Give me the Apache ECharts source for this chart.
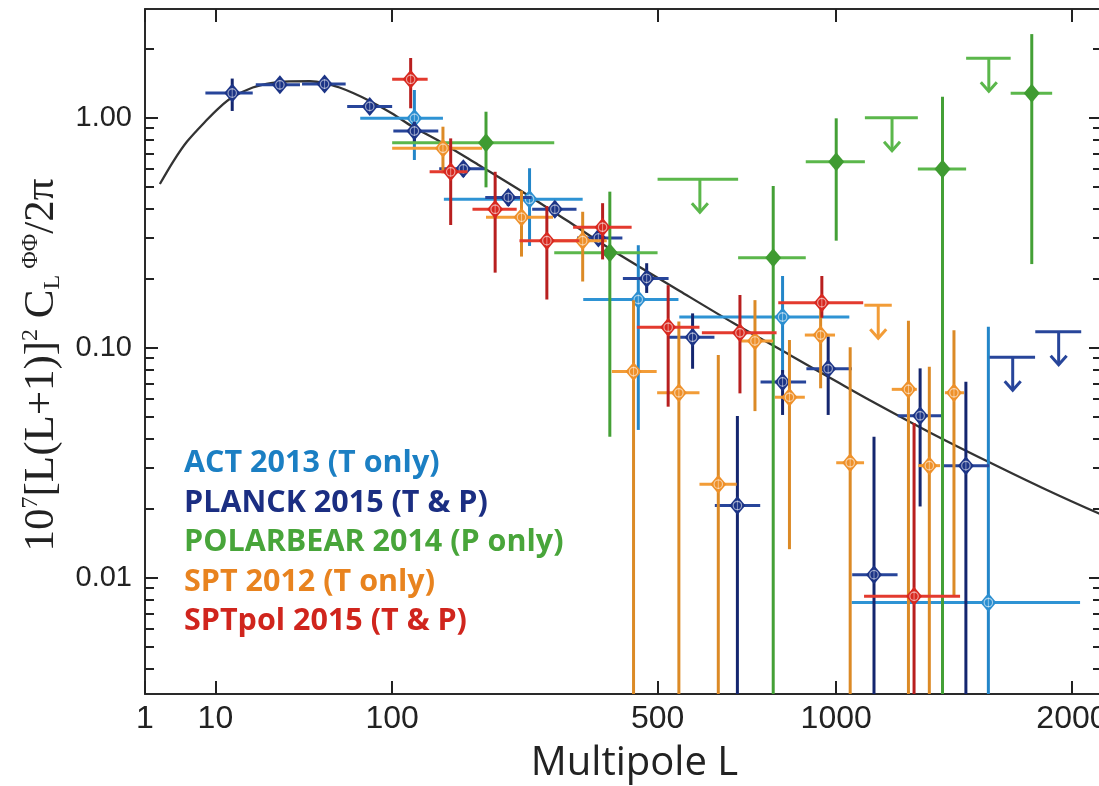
<!DOCTYPE html>
<html><head><meta charset="utf-8">
<script src="https://cdn.jsdelivr.net/npm/echarts@6/dist/echarts.min.js"></script>
<style>html,body{margin:0;padding:0;background:#fff}#c{width:1099px;height:786px}</style>
</head><body><div id="c"></div>
<script>
// ---------- axes ----------
const X_POW = 0.4;                 // the L axis of the figure is a power-law (L^0.4) scale
const X_MIN_L = 1, X_MAX_L = 2158;
const Y_MIN = 0.00312, Y_MAX = 2.97;
const xTicks = [1, 10, 100, 500, 1000, 2000];
const yMajorTicks = [0.01, 0.1, 1];
const yMinorTicks = [0.004, 0.005, 0.006, 0.007, 0.008, 0.009,
  0.02, 0.03, 0.04, 0.05, 0.06, 0.07, 0.08, 0.09,
  0.2, 0.3, 0.4, 0.5, 0.6, 0.7, 0.8, 0.9, 2];

// ---------- theory curve ----------
const theoryL = [2, 3.3, 5, 8.25, 11, 13.94, 20, 27, 34, 44, 52, 61, 70, 82, 100, 118, 146, 190, 252, 320, 400, 552, 687, 850, 1012, 1118, 1350, 1598, 1850, 2142, 2200];
const theoryV = [0.515, 0.648, 0.788, 0.977, 1.113, 1.224, 1.353, 1.418, 1.439, 1.441, 1.415, 1.353, 1.280, 1.182, 1.043, 0.916, 0.787, 0.625, 0.473, 0.359, 0.2695, 0.176, 0.128, 0.093, 0.070, 0.0591, 0.0427, 0.0319, 0.0246, 0.019, 0.0183];

// ---------- ACT 2013 ----------
const actL   = [120, 261, 458, 828, 1598];
const actLlo = [75, 150, 350, 550, 1053];
const actLhi = [149, 349, 548, 1045, 2042];
const actV   = [0.994, 0.442, 0.162, 0.136, 0.0078];
const actVlo = [0.655, 0.277, 0.0439, 0.078, null];
const actVhi = [1.32, 0.603, 0.279, 0.205, 0.1234];

// ---------- PLANCK 2015 ----------
const plaL   = [14, 30, 52, 82, 120, 172, 230, 301, 378, 476, 582, 828, 973, 698, 1133, 1309, 1499];
const plaLlo = [8, 21, 40, 66, 101, 145, 199, 265, 339, 426, 526, 763, 902, 638, 1055, 1222, 1405];
const plaLhi = [20, 39, 65, 100, 144, 198, 264, 338, 425, 525, 637, 901, 1054, 762, 1221, 1404, 1602];
const plaV   = [1.28, 1.39, 1.40, 1.12, 0.875, 0.60, 0.45, 0.40, 0.30, 0.20, 0.111, 0.071, 0.081, 0.0206, 0.0103, 0.0506, 0.0307];
const plaVlo = [1.07, 1.33, 1.34, 1.05, 0.78, 0.554, 0.413, 0.371, 0.28, 0.173, 0.081, 0.051, 0.051, null, null, 0.0204, null];
const plaVhi = [1.48, 1.45, 1.46, 1.19, 0.96, 0.644, 0.485, 0.432, 0.33, 0.233, 0.141, 0.080, 0.112, 0.0505, 0.041, 0.0813, 0.0711];
const plaLimLlo = [1603, 1817];
const plaLimLhi = [1816, 2048];
const plaLimV   = [0.0908, 0.1174];

// ---------- POLARBEAR 2014 ----------
const pbL   = [200, 400, 800, 1000, 1400, 1800];
const pbLlo = [100, 300, 700, 900, 1300, 1700];
const pbLhi = [300, 500, 900, 1100, 1500, 1900];
const pbV   = [0.778, 0.259, 0.246, 0.644, 0.598, 1.277];
const pbVlo = [0.498, 0.041, null, 0.292, null, 0.231];
const pbVhi = [1.062, 0.477, 0.505, 0.994, 1.234, 2.31];
const pbLimLlo = [500, 1100, 1500];
const pbLimLhi = [700, 1300, 1700];
const pbLimV   = [0.540, 1.0, 1.813];

// ---------- SPT 2012 ----------
const sptL   = [149, 249, 349, 448, 549, 647, 747, 849, 948, 1048, 1263, 1346, 1448];
const sptLlo = [100, 200, 292, 404, 499, 599, 705, 805, 897, 1000, 1199, 1302, 1410];
const sptLhi = [195, 298, 394, 498, 599, 696, 800, 897, 996, 1097, 1296, 1390, 1491];
const sptV   = [0.736, 0.369, 0.292, 0.0787, 0.0637, 0.0255, 0.107, 0.0609, 0.1135, 0.0316, 0.0659, 0.0307, 0.0637];
const sptVlo = [0.573, 0.249, 0.194, null, null, null, 0.053, 0.0133, 0.0666, null, null, null, 0.0084];
const sptVhi = [0.914, 0.482, 0.390, 0.161, 0.130, 0.093, 0.161, 0.108, 0.151, 0.1004, 0.131, 0.0827, 0.119];
const sptLimLlo = [1098];
const sptLimLhi = [1199];
const sptLimV   = [0.153];

// ---------- SPTpol 2015 ----------
const spolL   = [116.5, 157.5, 212, 288, 386, 524, 705, 952, 1285];
const spolLlo = [100, 135, 183, 246, 332, 455, 605, 815, 1097];
const spolLhi = [133, 177, 242, 343, 444, 599, 810, 1094, 1474];
const spolV   = [1.469, 0.582, 0.40, 0.292, 0.334, 0.1227, 0.116, 0.157, 0.0083];
const spolVlo = [1.099, 0.3415, 0.212, 0.162, 0.242, 0.0554, 0.0633, 0.135, null];
const spolVhi = [1.818, 0.813, 0.582, 0.413, 0.425, 0.187, 0.1695, 0.205, 0.047];

const yTitle = '{b|10}{s|7}{b|[L(L+1)]}{s|2}{b| C}{u|L}{s| ΦΦ}{b|/2π}';

// ---------- build ----------
const tx = L => Math.pow(L, X_POW);
function points(L, Llo, Lhi, V, Vlo, Vhi) {
  return L.map((l, i) => [tx(l), V[i], tx(Llo[i]), tx(Lhi[i]),
    Vlo[i] == null ? Y_MIN : Vlo[i], Vhi[i], 0]);
}
function limits(Llo, Lhi, V) {
  return Llo.map((lo, i) => [tx((lo + Lhi[i]) / 2), V[i], tx(lo), tx(Lhi[i]), V[i], V[i], 1]);
}

const defs = [
  { name: 'ACT 2013 (T only)', text: '#1b7fc3', h: '#2e93d4', v: '#2386c9', m: '#2a8ed0', ring: true,
    data: points(actL, actLlo, actLhi, actV, actVlo, actVhi) },
  { name: 'PLANCK 2015 (T & P)', text: '#1b2e82', h: '#27459a', v: '#14266f', m: '#1c3486', ring: true,
    data: points(plaL, plaLlo, plaLhi, plaV, plaVlo, plaVhi).concat(limits(plaLimLlo, plaLimLhi, plaLimV)) },
  { name: 'POLARBEAR 2014 (P only)', text: '#48a53a', h: '#5bb74b', v: '#44a036', m: '#3f9b31', ring: false,
    data: points(pbL, pbLlo, pbLhi, pbV, pbVlo, pbVhi).concat(limits(pbLimLlo, pbLimLhi, pbLimV)) },
  { name: 'SPT 2012 (T only)', text: '#e8831f', h: '#f29c37', v: '#dc8a26', m: '#ee9029', ring: true,
    data: points(sptL, sptLlo, sptLhi, sptV, sptVlo, sptVhi).concat(limits(sptLimLlo, sptLimLhi, sptLimV)) },
  { name: 'SPTpol 2015 (T & P)', text: '#d0251d', h: '#e33a2e', v: '#b81f1f', m: '#d8281f', ring: true,
    data: points(spolL, spolLlo, spolLhi, spolV, spolVlo, spolVhi) }
];

function makeRender(d) {
  return function (params, api) {
    const cs = params.coordSys;
    const top = cs.y, bot = cs.y + cs.height;
    const cy = y => Math.max(top, Math.min(bot, y));
    const xc = api.value(0), val = api.value(1), x0 = api.value(2), x1 = api.value(3);
    const lo = api.value(4), hi = api.value(5), lim = api.value(6);
    const p = api.coord([xc, val]);
    const pl = api.coord([x0, val]), pr = api.coord([x1, val]);
    const ch = [];
    ch.push({ type: 'line', shape: { x1: pl[0], y1: p[1], x2: pr[0], y2: p[1] },
      style: { stroke: d.h, lineWidth: 3 } });
    if (lim) {
      const A = 33;
      ch.push({ type: 'line', shape: { x1: p[0], y1: p[1], x2: p[0], y2: p[1] + A },
        style: { stroke: d.h, lineWidth: 3 } });
      ch.push({ type: 'polyline', shape: { points: [[p[0] - 8, p[1] + A - 9], [p[0], p[1] + A], [p[0] + 8, p[1] + A - 9]] },
        style: { stroke: d.h, lineWidth: 3, fill: 'none' } });
    } else {
      const yl = cy(api.coord([xc, lo])[1]);
      const yh = cy(api.coord([xc, hi])[1]);
      ch.push({ type: 'line', shape: { x1: p[0], y1: yh, x2: p[0], y2: yl },
        style: { stroke: d.v, lineWidth: 3 } });
      ch.push({ type: 'polygon', shape: { points: [[p[0], p[1] - 9.5], [p[0] + 8, p[1]], [p[0], p[1] + 9.5], [p[0] - 8, p[1]]] },
        style: { fill: d.m } });
      if (d.ring) {
        ch.push({ type: 'circle', shape: { cx: p[0], cy: p[1], r: 4.2 },
          style: { fill: 'none', stroke: 'rgba(255,255,255,0.55)', lineWidth: 1.2 } });
        ch.push({ type: 'line', shape: { x1: p[0], y1: p[1] - 5, x2: p[0], y2: p[1] + 5 },
          style: { stroke: 'rgba(255,255,255,0.45)', lineWidth: 1 } });
      }
    }
    return { type: 'group', children: ch };
  };
}

const NARROW = "'Liberation Sans Narrow', 'Liberation Sans', sans-serif";
const serif = "'Liberation Serif', serif";
const axisLineStyle = { color: '#2a2a2a', width: 2 };
const tickStyle = { color: '#222', width: 2 };

const xCommon = {
  type: 'value', min: tx(X_MIN_L), max: tx(X_MAX_L),
  splitLine: { show: false },
  axisLine: { show: true, onZero: false, lineStyle: axisLineStyle }
};
const yCommon = {
  type: 'log', logBase: 10, min: Y_MIN, max: Y_MAX,
  splitLine: { show: false }, minorTick: { show: false }, minorSplitLine: { show: false }
};

const option = {
  animation: false,
  backgroundColor: '#ffffff',
  grid: { left: 145, top: 9, width: 957, height: 685, containLabel: false, outerBoundsMode: 'none' },
  graphic: [{
    type: 'text', x: 42, y: 365, rotation: Math.PI / 2, silent: true,
    style: {
      text: yTitle, align: 'center', verticalAlign: 'middle',
      rich: {
        b: { fontFamily: serif, fontSize: 43, fill: '#222', lineHeight: 46 },
        s: { fontFamily: serif, fontSize: 24, fill: '#222', lineHeight: 21, verticalAlign: 'top' },
        u: { fontFamily: serif, fontSize: 24, fill: '#222', lineHeight: 21, verticalAlign: 'bottom' }
      }
    }
  }],
  legend: {
    orient: 'vertical', left: 174, top: 443, itemGap: 8.5, itemWidth: 0, itemHeight: 0,
    icon: 'none', selectedMode: false,
    textStyle: { fontFamily: "'Open Sans', sans-serif", fontWeight: 'bold', fontSize: 30.5, lineHeight: 30 },
    data: defs.map(d => ({ name: d.name, textStyle: { color: d.text } }))
  },
  xAxis: [
    Object.assign({}, xCommon, {
      position: 'bottom',
      axisTick: { show: true, inside: true, length: 13, customValues: xTicks.map(tx), lineStyle: tickStyle },
      axisLabel: { show: true, customValues: xTicks.map(tx),
        formatter: v => String(Math.round(Math.pow(v, 1 / X_POW))),
        fontFamily: NARROW, fontSize: 32, color: '#222', margin: 9 },
      name: 'Multipole L', nameLocation: 'middle', nameGap: 50, nameMoveOverlap: false,
      nameTextStyle: { fontFamily: "'Open Sans', sans-serif", fontSize: 40, color: '#222', padding: [0, 0, 0, 22] }
    }),
    Object.assign({}, xCommon, {
      position: 'top',
      axisTick: { show: true, inside: true, length: 13, customValues: xTicks.map(tx), lineStyle: tickStyle },
      axisLabel: { show: false }
    })
  ],
  yAxis: [
    Object.assign({}, yCommon, {
      position: 'left',
      axisLine: { show: true, onZero: false, lineStyle: axisLineStyle },
      axisTick: { show: true, inside: true, length: 13, customValues: yMajorTicks, lineStyle: tickStyle },
      axisLabel: { show: true, customValues: yMajorTicks, formatter: v => Number(v).toFixed(2),
        fontFamily: NARROW, fontSize: 29, color: '#222', margin: 13 }
    }),
    Object.assign({}, yCommon, {
      position: 'left', axisLine: { show: false },
      axisTick: { show: true, inside: true, length: 9, customValues: yMinorTicks, lineStyle: tickStyle },
      axisLabel: { show: false }
    }),
    Object.assign({}, yCommon, {
      position: 'right', axisLine: { show: true, onZero: false, lineStyle: axisLineStyle },
      axisTick: { show: true, inside: true, length: 13, customValues: yMajorTicks, lineStyle: tickStyle },
      axisLabel: { show: false }
    }),
    Object.assign({}, yCommon, {
      position: 'right', axisLine: { show: false },
      axisTick: { show: true, inside: true, length: 9, customValues: yMinorTicks, lineStyle: tickStyle },
      axisLabel: { show: false }
    })
  ],
  series: [
    {
      type: 'line', xAxisIndex: 0, yAxisIndex: 0, z: 2, silent: true,
      data: theoryL.map((l, i) => [tx(l), theoryV[i]]),
      smooth: 0.3, symbol: 'none', showSymbol: false, clip: true,
      lineStyle: { color: '#333', width: 2.3 }
    }
  ].concat(defs.map(d => ({
    type: 'custom', name: d.name, xAxisIndex: 0, yAxisIndex: 0, z: 3, silent: true,
    itemStyle: { color: d.text },
    renderItem: makeRender(d),
    encode: { x: [0, 2, 3], y: [1, 4, 5] },
    data: d.data
  })))
};

const chart = echarts.init(document.getElementById('c'), null, { renderer: 'canvas' });
chart.setOption(option);
</script>
</body></html>
